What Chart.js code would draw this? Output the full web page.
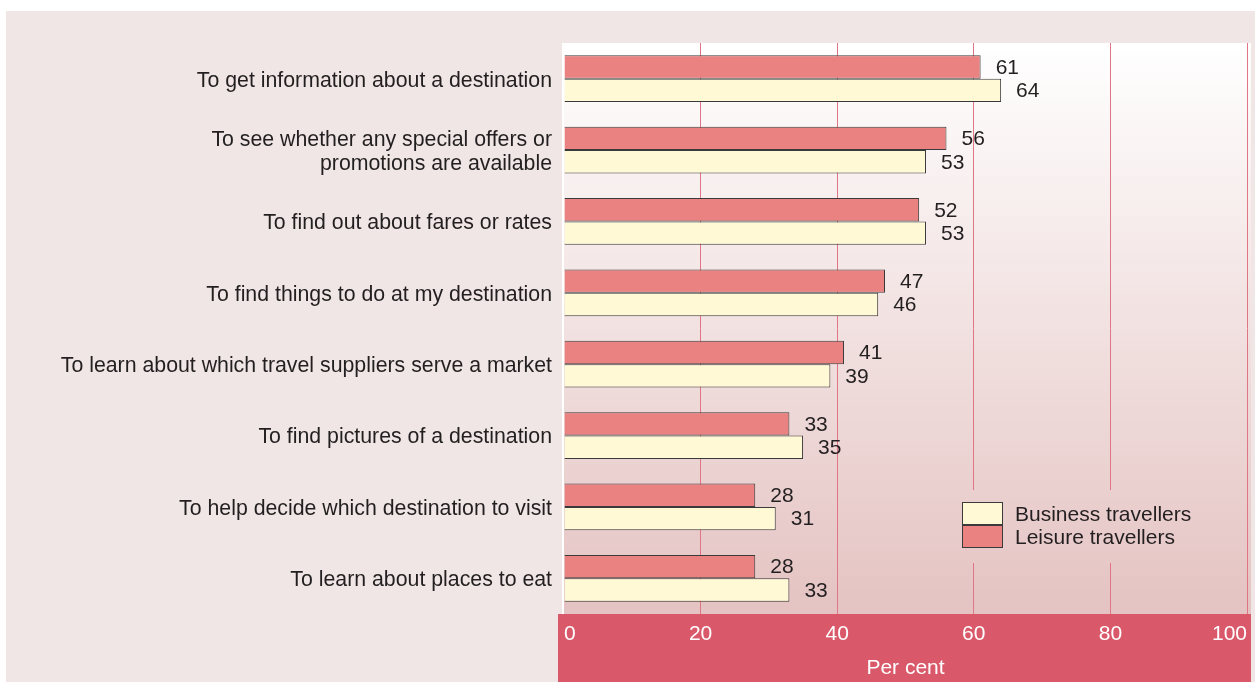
<!DOCTYPE html>
<html>
<head>
<meta charset="utf-8">
<style>
  html, body { margin: 0; padding: 0; background: #ffffff; }
  #wrap { width: 1255px; height: 682px; position: relative; }
</style>
<script src="https://cdn.jsdelivr.net/npm/chart.js"></script>
</head>
<body>
<div id="wrap"><canvas id="chart"></canvas></div>
<script>
// Reasons for visiting destination websites
const categories = [
  'To get information about a destination',
  ['To see whether any special offers or', 'promotions are available'],
  'To find out about fares or rates',
  'To find things to do at my destination',
  'To learn about which travel suppliers serve a market',
  'To find pictures of a destination',
  'To help decide which destination to visit',
  'To learn about places to eat'
];
const leisure = [61, 56, 52, 47, 41, 33, 28, 28];
const business = [64, 53, 53, 46, 39, 35, 31, 33];
const xTicks = [0, 20, 40, 60, 80, 100];

const FONT = 'Liberation Sans, Arial, Helvetica, sans-serif';
const TEXT = '#231f20';
const RED = '#e98280';
const CREAM = '#fffad5';
const BAND = '#d9596a';
const GRID = '#e07585';

// page panel, plot gradient, axis band
const backdrop = {
  id: 'backdrop',
  beforeDraw(chart) {
    const { ctx, chartArea: a } = chart;
    ctx.save();
    ctx.fillStyle = '#ffffff';
    ctx.fillRect(0, 0, chart.width, chart.height);
    ctx.fillStyle = '#efe6e5';
    ctx.fillRect(6, 11, chart.width - 6, chart.height - 11);
    const g = ctx.createLinearGradient(0, a.top, 0, a.bottom);
    g.addColorStop(0, '#ffffff');
    g.addColorStop(1, '#e4c3c2');
    chart.$plotGradient = g;
    ctx.fillStyle = g;
    ctx.fillRect(a.left - 2, a.top, a.right - a.left + 6, a.bottom - a.top);
    ctx.fillStyle = '#ffffff';
    ctx.fillRect(a.left - 2, a.top, 2, a.bottom - a.top);
    ctx.fillStyle = BAND;
    ctx.fillRect(a.left - 6, a.bottom, a.right - a.left + 10, chart.height - a.bottom);
    ctx.restore();
  }
};

// numbers at bar ends
const valueLabels = {
  id: 'valueLabels',
  afterDatasetsDraw(chart) {
    const { ctx } = chart;
    ctx.save();
    ctx.font = '21px ' + FONT;
    ctx.fillStyle = TEXT;
    ctx.textAlign = 'left';
    ctx.textBaseline = 'middle';
    chart.data.datasets.forEach((ds, i) => {
      chart.getDatasetMeta(i).data.forEach((bar, j) => {
        ctx.fillText(String(ds.data[j]), bar.x + 15, bar.y + 1);
      });
    });
    ctx.restore();
  }
};

// legend inside the plot, bottom right
const insideLegend = {
  id: 'insideLegend',
  afterDatasetsDraw(chart) {
    const { ctx } = chart;
    ctx.save();
    ctx.fillStyle = chart.$plotGradient;
    ctx.fillRect(945, 490, 265, 73);
    const items = [
      { text: 'Business travellers', color: CREAM, y: 502 },
      { text: 'Leisure travellers', color: RED, y: 525 }
    ];
    ctx.font = '21px ' + FONT;
    ctx.textBaseline = 'middle';
    items.forEach(it => {
      ctx.fillStyle = it.color;
      ctx.fillRect(962, it.y, 41, 23);
      ctx.strokeStyle = '#3a3a3a';
      ctx.lineWidth = 1;
      ctx.strokeRect(962.5, it.y + 0.5, 40, 22);
      ctx.fillStyle = TEXT;
      ctx.fillText(it.text, 1015, it.y + 13);
    });
    ctx.restore();
  }
};

new Chart(document.getElementById('chart'), {
  type: 'bar',
  data: {
    labels: categories,
    datasets: [
      {
        label: 'Leisure travellers',
        data: leisure,
        backgroundColor: RED,
        borderColor: '#3a3a3a',
        borderWidth: 1,
        categoryPercentage: 0.655,
        barPercentage: 1
      },
      {
        label: 'Business travellers',
        data: business,
        backgroundColor: CREAM,
        borderColor: '#3a3a3a',
        borderWidth: 1,
        categoryPercentage: 0.655,
        barPercentage: 1
      }
    ]
  },
  options: {
    indexAxis: 'y',
    responsive: true,
    maintainAspectRatio: false,
    animation: false,
    layout: { padding: { left: 0, top: 43, right: 7, bottom: 0 } },
    plugins: {
      legend: { display: false },
      tooltip: { enabled: false }
    },
    scales: {
      x: {
        min: 0,
        max: 100,
        afterBuildTicks: scale => { scale.ticks = xTicks.map(v => ({ value: v })); },
        afterFit: scale => { scale.height = 68; },
        border: { display: false },
        grid: {
          drawTicks: false,
          lineWidth: 1,
          color: ctx => ctx.tick && ctx.tick.value === 0 ? 'rgba(0,0,0,0)' : GRID
        },
        ticks: {
          color: '#ffffff',
          padding: 8,
          align: 'inner',
          font: { family: FONT, size: 21 }
        },
        title: {
          display: true,
          text: 'Per cent',
          color: '#ffffff',
          padding: { top: 0, bottom: 1 },
          font: { family: FONT, size: 21 }
        }
      },
      y: {
        afterFit: scale => { scale.width = 564; },
        border: { display: false },
        grid: { display: false, drawTicks: false },
        ticks: {
          color: TEXT,
          padding: 12,
          labelOffset: 2,
          font: { family: FONT, size: 21.3, lineHeight: 1.12 }
        }
      }
    }
  },
  plugins: [backdrop, valueLabels, insideLegend]
});
</script>
</body>
</html>
